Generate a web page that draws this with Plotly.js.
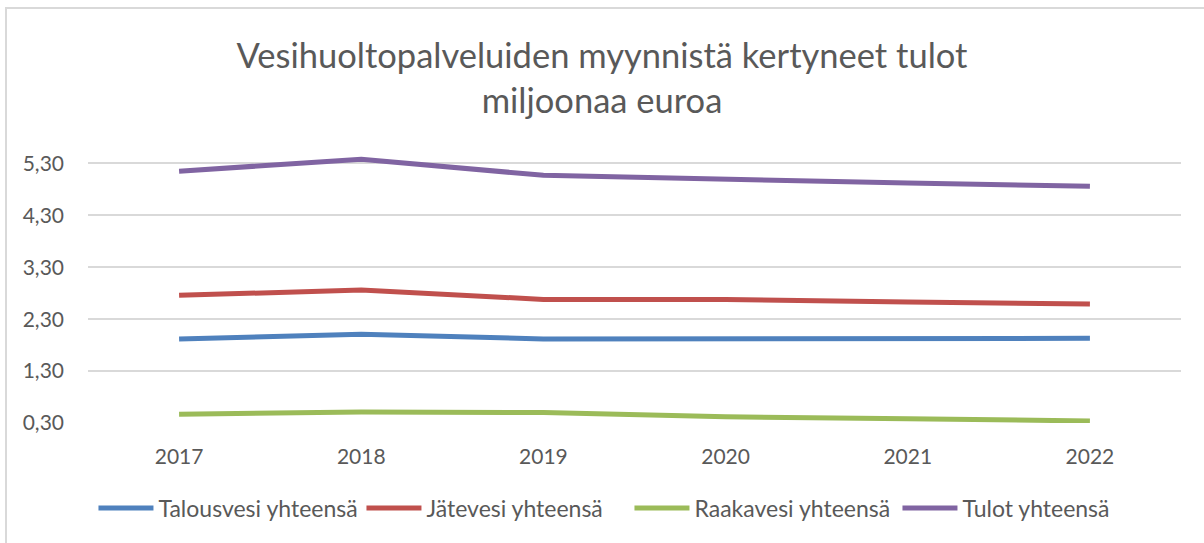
<!DOCTYPE html>
<html>
<meta charset="UTF-8">
<head>
<script src="https://cdn.plot.ly/plotly-3.0.1.min.js"></script>
<style>
	body { margin:0; background:#fff; }
	#plot { position:absolute; left:0; top:0; width:1204px; height:543px; }
	#frame { position:absolute; left:5px; top:7px; width:1300px; height:600px;
		border-left:2px solid #d9d9d9; border-top:2px solid #d9d9d9; pointer-events:none; }
</style>
</head>
<body>
<div id="plot"></div>
<div id="frame"></div>
<script>
	// years on the x axis
	var years = ['2017', '2018', '2019', '2020', '2021', '2022'];

	// values, million euros
	var talousvesi = [1.92, 2.01, 1.92, 1.92, 1.92, 1.93];
	var jatevesi = [2.76, 2.86, 2.68, 2.68, 2.63, 2.59];
	var raakavesi = [0.47, 0.51, 0.50, 0.42, 0.38, 0.34];
	var tulot = [5.15, 5.38, 5.07, 4.99, 4.92, 4.86];

	var seriesNames = ['Talousvesi yhteensä', 'Jätevesi yhteensä', 'Raakavesi yhteensä', 'Tulot yhteensä'];
	var seriesColors = ['#4f81bd', '#c0504d', '#9bbb59', '#8064a2'];
	var yTicks = [0.3, 1.3, 2.3, 3.3, 4.3, 5.3];

	var allValues = [talousvesi, jatevesi, raakavesi, tulot];
	var data = [];
	for(var i=0; i<allValues.length; i++)
	{
		data.push({
			x: years,
			y: allValues[i],
			type: 'scatter',
			mode: 'lines',
			name: seriesNames[i],
			line: {color: seriesColors[i], width: 5},
			hoverinfo: 'x+y+name'
		});
	}

	var font = 'Lato, "Open Sans", sans-serif';
	var layout =
	{
		width: 1204,
		height: 543,
		margin: {l: 88, r: 23, t: 153, b: 120, autoexpand: false},
		paper_bgcolor: '#ffffff',
		plot_bgcolor: '#ffffff',
		separators: ',.',
		font: {family: font, color: '#595959', size: 21},
		title: {
			text: 'Vesihuoltopalveluiden myynnistä kertyneet tulot<br>miljoonaa euroa',
			font: {family: font, size: 34.5, color: '#595959'},
			x: 0.5, xanchor: 'center',
			y: 0.874, yref: 'container', yanchor: 'top'
		},
		xaxis: {
			type: 'category',
			range: [-0.5, 5.5],
			showgrid: false,
			showline: false,
			zeroline: false,
			ticks: '',
			ticklabelstandoff: 19,
			tickfont: {size: 21, color: '#595959'},
			fixedrange: true
		},
		yaxis: {
			range: [0.3, 5.5],
			tickvals: yTicks,
			tickformat: '.2f',
			showgrid: true,
			gridcolor: '#d9d9d9',
			gridwidth: 2,
			zeroline: false,
			showline: false,
			ticks: '',
			ticklabelstandoff: 23,
			tickfont: {size: 21, color: '#595959'},
			fixedrange: true
		},
		showlegend: true,
		legend: {
			orientation: 'h',
			x: 0.005, xanchor: 'left',
			y: -0.315, yanchor: 'middle',
			font: {family: font, size: 23, color: '#595959'},
			itemwidth: 55,
			entrywidth: 198,
			entrywidthmode: 'pixels',
			tracegroupgap: 0
		}
	};

	var config = {displayModeBar: false, responsive: false};

	Plotly.newPlot('plot', data, layout, config);
</script>
</body>
</html>
